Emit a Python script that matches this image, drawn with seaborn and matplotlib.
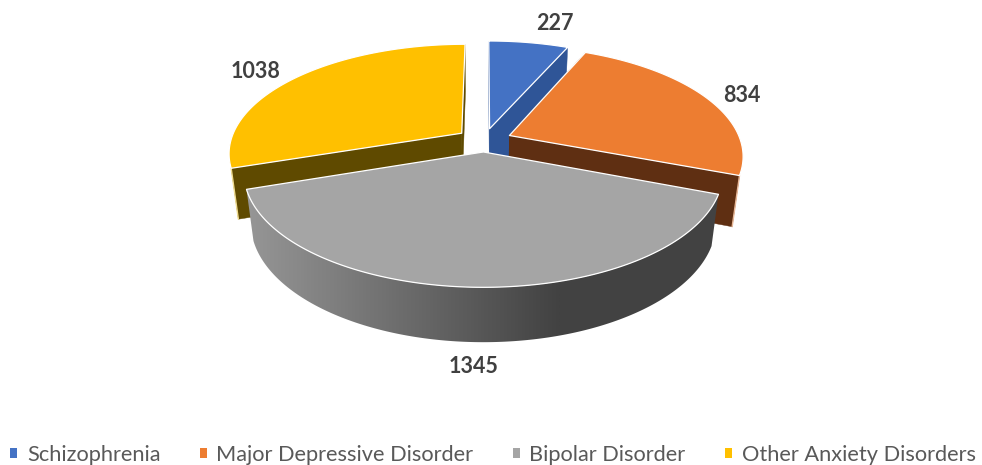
import numpy as np
import matplotlib
matplotlib.use("Agg")
import matplotlib.pyplot as plt
from matplotlib.patches import Patch, Polygon
from matplotlib.colors import LinearSegmentedColormap
import seaborn as sns

categories = ["Schizophrenia", "Major Depressive Disorder", "Bipolar Disorder", "Other Anxiety Disorders"]
values = [227, 834, 1345, 1038]
top_colors = ["#4472C4", "#ED7D31", "#A5A5A5", "#FFC000"]
cut_colors = ["#2F5597", "#5F2F12", "#A5A5A5", "#5F4A00"]
rim_colors = ["#2F5597", "#E8B898", "#808080", "#F0DC90"]

sns.set_theme(style="white")
plt.rcParams["font.family"] = ["Lato", "DejaVu Sans"]

# projection of the tilted, exploded pie
CX, CY, R, K, DEPTH = 484.0, 140.0, 231.0, 106.8, 50.0
P, Q, EXPLODE_X, EXPLODE_Y = 0.176, 0.028, 0.12, 0.11


def project(px, py, z=0.0):
    s = 1.0 / (1.0 + P * py)
    s2 = 1.0 / (1.0 + P * py + Q * z)
    return CX + R * px * s2, CY - K * py * s + DEPTH * z * (1 + 0.4 * (s - 1))


fig = plt.figure(figsize=(9.82, 4.65), dpi=100)
ax = fig.add_axes([0, 0, 1, 1])

edges = np.radians(np.concatenate([[0], np.cumsum(values)]) / np.sum(values) * 360)
slices = []
for i in range(len(values)):
    a0, a1 = edges[i], edges[i + 1]
    mid = (a0 + a1) / 2
    slices.append((i, a0, a1, EXPLODE_X * np.sin(mid), EXPLODE_Y * np.cos(mid)))

wall_map = LinearSegmentedColormap.from_list("wall", sns.blend_palette(["#9C9C9C", "#424242"], 32))
order = 0
for i, a0, a1, ox, oy in [slices[3], slices[0], slices[1], slices[2]]:
    t = np.linspace(a0, a1, 240)
    ux, uy = ox + np.sin(t), oy + np.cos(t)

    if i != 2:
        # cut faces of the exploded slice
        for a in (a0, a1):
            ex, ey = ox + np.sin(a), oy + np.cos(a)
            qx, qy = zip(project(ox, oy), project(ex, ey), project(ex, ey, 1), project(ox, oy, 1))
            order += 1
            ax.fill(qx, qy, color=cut_colors[i], lw=0.3, zorder=order)
            if (i == 1 and a == a1) or (i == 3 and a == a0):
                order += 1
                ax.plot(qx[1:3], qy[1:3], color=rim_colors[i], lw=1.0, zorder=order)
    else:
        # outer wall with a left-to-right shading
        tx0, ty0 = project(ux, uy)
        tx1, ty1 = project(ux, uy, 1)
        poly = Polygon(np.column_stack([np.r_[tx0, tx1[::-1]], np.r_[ty0, ty1[::-1]]]),
                       closed=True, transform=ax.transData, facecolor="none", edgecolor="none")
        ax.add_patch(poly)
        order += 1
        shade = np.linspace(0, 1, 256)[None, :]
        img = ax.imshow(shade, cmap=wall_map, extent=(225, 560, 360, 150), aspect="auto",
                        zorder=order, interpolation="bilinear")
        order += 1
        img2 = ax.imshow(np.ones((2, 2)), cmap=wall_map, vmin=0, vmax=1, extent=(560, 730, 360, 150),
                         aspect="auto", zorder=order)
        img.set_clip_path(poly)
        img2.set_clip_path(poly)

    # top face
    tx, ty = project(np.r_[ox, ux], np.r_[oy, uy])
    order += 1
    ax.fill(tx, ty, facecolor=top_colors[i], edgecolor="#FFFFFF", lw=0.9, joinstyle="round", zorder=order)

ax.set_xlim(0, 982)
ax.set_ylim(465, 0)
ax.axis("off")

label_xy = [(555, 23), (742, 95), (474, 366), (256, 72)]
for v, (lx, ly) in zip(values, label_xy):
    ax.text(lx, ly, str(v), ha="center", va="center", fontsize=15.5, fontweight="bold",
            color="#404040", zorder=50)

handles = [Patch(facecolor=c, edgecolor="none", label=n) for c, n in zip(top_colors, categories)]
ax.legend(handles=handles, ncol=4, loc="lower left", bbox_to_anchor=(10 / 982, 0.0), frameon=False,
          fontsize=15.7, labelcolor="#595959", handlelength=0.32, handleheight=0.32,
          handletextpad=0.45, columnspacing=1.8, borderaxespad=0, borderpad=0)

fig.savefig("out.png", dpi=100)
